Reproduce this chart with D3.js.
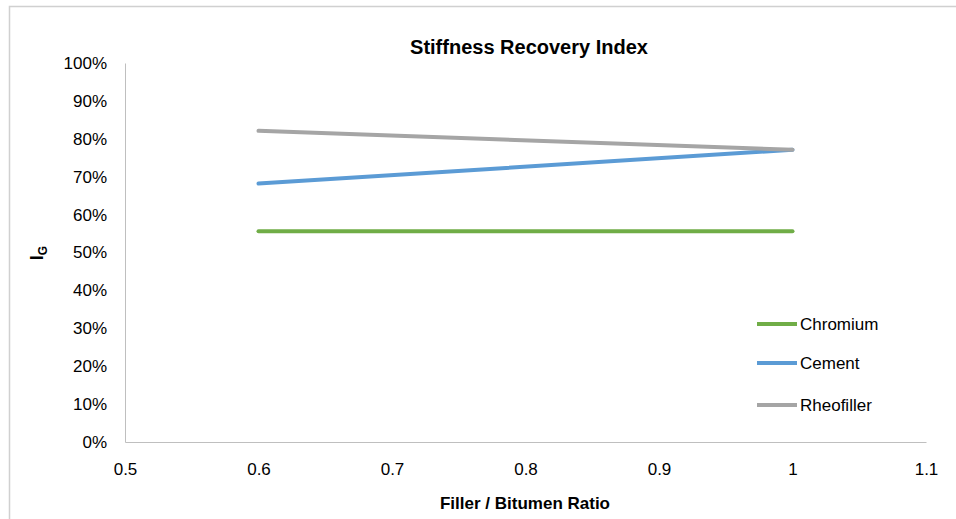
<!DOCTYPE html>
<html>
<head>
<meta charset="utf-8">
<script src="https://cdn.jsdelivr.net/npm/d3@7"></script>
<style>
  body { margin: 0; background: #fff; }
  svg { display: block; font-family: "Liberation Sans", Arial, sans-serif; }
</style>
</head>
<body>
<svg id="chart" width="956" height="519"></svg>
<script>
// data
const ratios = [0.6, 1];
const chromium = [0.556, 0.556];
const cement = [0.682, 0.771];
const rheofiller = [0.821, 0.771];
const seriesNames = ["Chromium", "Cement", "Rheofiller"];
const seriesColors = ["#70ad47", "#5b9bd5", "#a5a5a5"];
const xTicks = [0.5, 0.6, 0.7, 0.8, 0.9, 1, 1.1];
const yTicks = [0, 0.1, 0.2, 0.3, 0.4, 0.5, 0.6, 0.7, 0.8, 0.9, 1];

const svg = d3.select("svg#chart");

// outer chart frame (top + left visible)
svg.append("path")
  .attr("d", "M9.5,519 L9.5,6.5 L956,6.5")
  .attr("fill", "none")
  .attr("stroke", "#d0d0d0")
  .attr("stroke-width", 1.5);

const xScale = d3.scaleLinear().domain([0.5, 1.1]).range([125, 926]);
const yScale = d3.scaleLinear().domain([0, 1]).range([442, 63]);

// axes
const xAxis = svg.append("g")
  .attr("transform", "translate(0," + yScale(0) + ")")
  .call(d3.axisBottom(xScale).tickValues(xTicks).tickSize(0).tickPadding(21)
    .tickFormat((d) => d3.format("")(+d.toFixed(1))));
xAxis.select(".domain").attr("stroke", "#bfbfbf").attr("stroke-width", 1);
xAxis.selectAll("text").attr("font-size", 17).attr("fill", "#000")
  .attr("font-family", "Liberation Sans, Arial, sans-serif");

const yAxis = svg.append("g")
  .attr("transform", "translate(" + xScale(0.5) + ",0)")
  .call(d3.axisLeft(yScale).tickValues(yTicks).tickSize(0).tickPadding(18)
    .tickFormat(d3.format(".0%")));
yAxis.select(".domain").attr("stroke", "#bfbfbf").attr("stroke-width", 1);
yAxis.selectAll("text").attr("font-size", 17).attr("fill", "#000")
  .attr("font-family", "Liberation Sans, Arial, sans-serif");

// lines
const line = d3.line()
  .x((d) => xScale(d[0]))
  .y((d) => yScale(d[1]));

const allSeries = [chromium, cement, rheofiller];
allSeries.forEach(function (vals, i) {
  svg.append("path")
    .attr("d", line(ratios.map((r, j) => [r, vals[j]])))
    .attr("fill", "none")
    .attr("stroke", seriesColors[i])
    .attr("stroke-width", 4)
    .attr("stroke-linecap", "round");
});

// legend
const legendY = [324, 363, 405];
seriesNames.forEach(function (name, i) {
  svg.append("line")
    .attr("x1", 757).attr("x2", 797)
    .attr("y1", legendY[i]).attr("y2", legendY[i])
    .attr("stroke", seriesColors[i])
    .attr("stroke-width", 4);
  svg.append("text")
    .attr("x", 800).attr("y", legendY[i])
    .attr("dy", "0.35em")
    .attr("font-size", 17)
    .text(name);
});

// titles
svg.append("text")
  .attr("x", 529).attr("y", 54)
  .attr("text-anchor", "middle")
  .attr("font-size", 20)
  .attr("font-weight", "bold")
  .text("Stiffness Recovery Index");

svg.append("text")
  .attr("x", 525).attr("y", 509)
  .attr("text-anchor", "middle")
  .attr("font-size", 17)
  .attr("font-weight", "bold")
  .text("Filler / Bitumen Ratio");

const yTitle = svg.append("text")
  .attr("transform", "translate(43,253) rotate(-90)")
  .attr("text-anchor", "middle")
  .attr("font-size", 18)
  .attr("font-weight", "bold");
yTitle.append("tspan").text("I");
yTitle.append("tspan").attr("font-size", 12).attr("dy", 4).text("G");
</script>
</body>
</html>
